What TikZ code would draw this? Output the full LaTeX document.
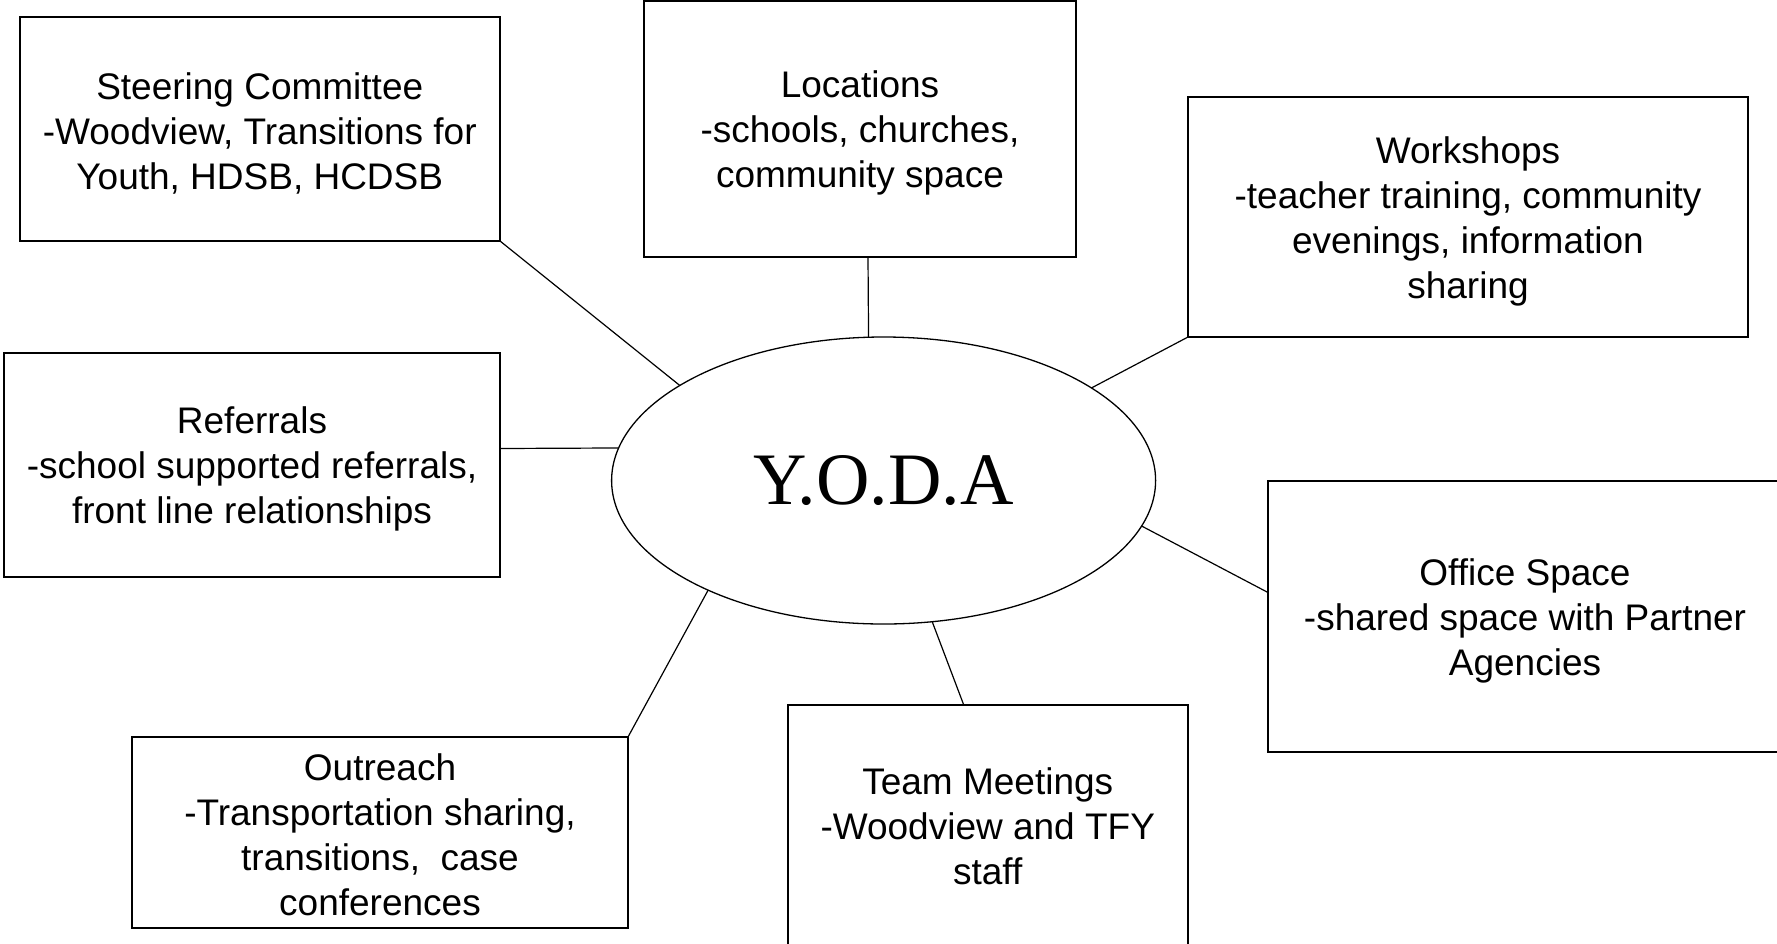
\documentclass[tikz,border=0pt]{standalone}
\usepackage{fontspec}
\setmainfont{Liberation Sans}
\newfontfamily\yodafont{Liberation Serif}
\usetikzlibrary{shapes.geometric,calc}
\newcommand\mytopstrut{\rule{0pt}{31pt}}
\newcommand\mytallstrut{\rule{0pt}{35pt}}
\begin{document}
\begin{tikzpicture}[x=1pt,y=-1pt,
  box/.style={draw, line width=2pt, rectangle, inner sep=0pt, outer sep=0pt, align=center,
    font=\fontsize{37}{45}\selectfont},
  link/.style={line width=1.2pt},
  hub/.style={draw, ellipse, line width=1.3pt, inner sep=0pt, outer sep=0pt,
    font=\yodafont\fontsize{74}{80}\selectfont}]
\useasboundingbox (0,0) rectangle (1777,943);
\clip (0,0) rectangle (1777,943);
\fill[white] (0,0) rectangle (1777,943);

\node[hub, minimum width=544pt, minimum height=287pt] (yoda) at (883.6,480.5) {Y.O.D.A};

\node[box, minimum width=480.5pt, minimum height=224pt] (steer) at (259.75,129)
  {\mytallstrut Steering Committee\\-Woodview, Transitions for\\Youth, HDSB, HCDSB};
\node[box, minimum width=432pt, minimum height=256pt] (loc) at (860,129)
  {\mytallstrut Locations\\-schools, churches,\\community space};
\node[box, minimum width=560pt, minimum height=240pt] (work) at (1468,217)
  {\mytallstrut Workshops\\-teacher training, community\\evenings, information\\sharing};
\node[box, minimum width=496pt, minimum height=224pt] (ref) at (252,465)
  {\mytallstrut Referrals\\-school supported referrals,\\front line relationships};
\node[box, minimum width=514pt, minimum height=271pt] (office) at (1525,616.5)
  {\mytallstrut Office Space\\-shared space with Partner\\Agencies};
\node[box, minimum width=496pt, minimum height=191pt] (out) at (380,832.5)
  {\mytopstrut Outreach\\-Transportation sharing,\\transitions,\ \ case\\conferences};
\node[box, minimum width=400.5pt, minimum height=242pt] (team) at (987.75,826)
  {Team Meetings\\-Woodview and TFY\\staff};

\draw[link] (steer.south east) -- (yoda.155.2);
\draw[link] ($(loc.south)+(8,0)$) -- (yoda.96.2);
\draw[link] (work.south west) -- (yoda.24.7);
\draw[link] ($(ref.east)+(0,-16.5)$) -- (yoda.173.3);
\draw[link] ($(office.west)+(0,-24)$) -- (yoda.-10.7);
\draw[link] (out.north east) -- (yoda.212.6);
\draw[link] ($(team.north)+(-24,0)$) -- (yoda.-71.6);
\end{tikzpicture}
\end{document}
